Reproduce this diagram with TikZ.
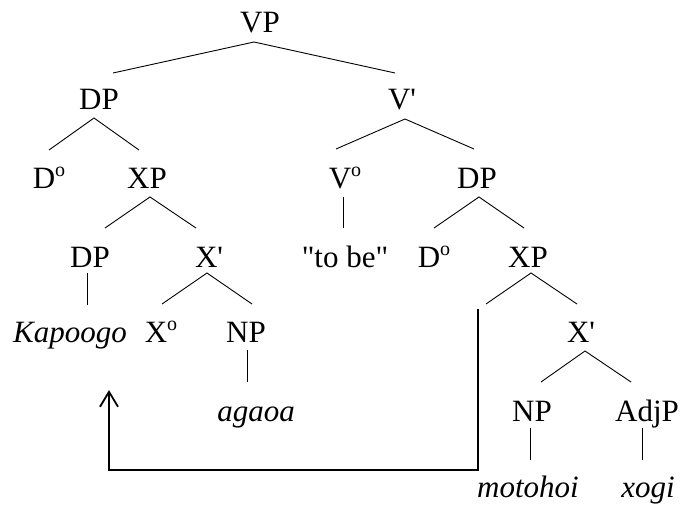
\documentclass[tikz,border=0pt]{standalone}
\usepackage{fontspec}
\setmainfont{Liberation Serif}[Ligatures=TeXOff]
\usetikzlibrary{calc,arrows.meta}
\newcommand\supo{\raisebox{11.5pt}{\fontsize{20}{20}\selectfont o}}
\begin{document}
\begin{tikzpicture}[x=1pt,y=-1pt,
  lab/.style={anchor=base,inner sep=0pt,font=\fontsize{31}{37}\selectfont},
  wd/.style={anchor=base,inner sep=0pt,font=\fontsize{31}{37}\selectfont\itshape},
  br/.style={line width=0.9pt},
  mv/.style={line width=2.4pt}]
\useasboundingbox (0,0) rectangle (684,505);
\fill[white] (0,0) rectangle (684,505);
% nodes
\node[lab] (VP) at (260,33) {VP};
\node[lab] (DPa) at (99,110) {DP};
\node[lab] (Vbar) at (402,110) {V'};
\node[lab] (Da) at (49,188) {D\supo};
\node[lab] (XPa) at (147,188) {XP};
\node[lab] (Vo) at (345,188) {V\supo};
\node[lab] (DPb) at (477,188) {DP};
\node[lab] (DPc) at (90,267) {DP};
\node[lab] (Xbara) at (209,267) {X'};
\node[lab] (tobe) at (345,267) {"to be"};
\node[lab] (Db) at (434,267) {D\supo};
\node[lab] (XPb) at (528,267) {XP};
\node[wd] (Kap) at (70,342) {Kapoogo};
\node[lab] (Xo) at (161,342) {X\supo};
\node[lab] (NPa) at (246,342) {NP};
\node[lab] (Xbarb) at (581,342) {X'};
\node[wd] (aga) at (256,421) {agaoa};
\node[lab] (NPb) at (532,421) {NP};
\node[lab] (Adj) at (647,421) {AdjP};
\node[wd] (mot) at (528,497) {motohoi};
\node[wd] (xog) at (648,497) {xogi};
% branches
\draw[br] ($(DPa.base)+(14,-37)$) -- ($(VP.base)+(-6,9)$) -- ($(Vbar.base)+(-7,-37)$);
\draw[br] ($(Da.base)+(0,-38)$) -- ($(DPa.base)+(-5,8)$) -- ($(XPa.base)+(-8,-38)$);
\draw[br] ($(DPc.base)+(15,-39)$) -- ($(XPa.base)+(3,9)$) -- ($(Xbara.base)+(-13,-39)$);
\draw[br] ($(Vo.base)+(-9,-39)$) -- ($(Vbar.base)+(3,9)$) -- ($(DPb.base)+(-3,-39)$);
\draw[br] ($(Vo.base)+(-2,9)$) -- ($(tobe.base)+(-2,-39)$);
\draw[br] ($(Db.base)+(0,-39)$) -- ($(DPb.base)+(2,9)$) -- ($(XPb.base)+(-4,-39)$);
\draw[br] ($(DPc.base)+(-3,6)$) -- ($(Kap.base)+(17,-37)$);
\draw[br] ($(Xo.base)+(1,-38)$) -- ($(Xbara.base)+(-2,6)$) -- ($(NPa.base)+(6,-38)$);
\coordinate (tr) at ($(XPb.base)+(-42,37)$);
\draw[br] (tr) -- ($(XPb.base)+(3,6)$) -- ($(Xbarb.base)+(-4,-38)$);
\draw[br] ($(NPa.base)+(1,8)$) -- ($(aga.base)+(-9,-39)$);
\draw[br] ($(NPb.base)+(9,-39)$) -- ($(Xbarb.base)+(4,9)$) -- ($(Adj.base)+(-16,-39)$);
\draw[br] ($(NPb.base)+(-2,7)$) -- ($(mot.base)+(2,-37)$);
\draw[br] ($(Adj.base)+(-5,7)$) -- ($(xog.base)+(-6,-37)$);
% movement arrow
\coordinate (low) at ($(tr)+(-8,166)$);
\draw[mv,-{Straight Barb[length=15pt,width=18pt,line width=1.8pt]}]
  ($(tr)+(-8,5)$) -- (low) -| ($(Kap.base)+(39,48)$);
\end{tikzpicture}
\end{document}
